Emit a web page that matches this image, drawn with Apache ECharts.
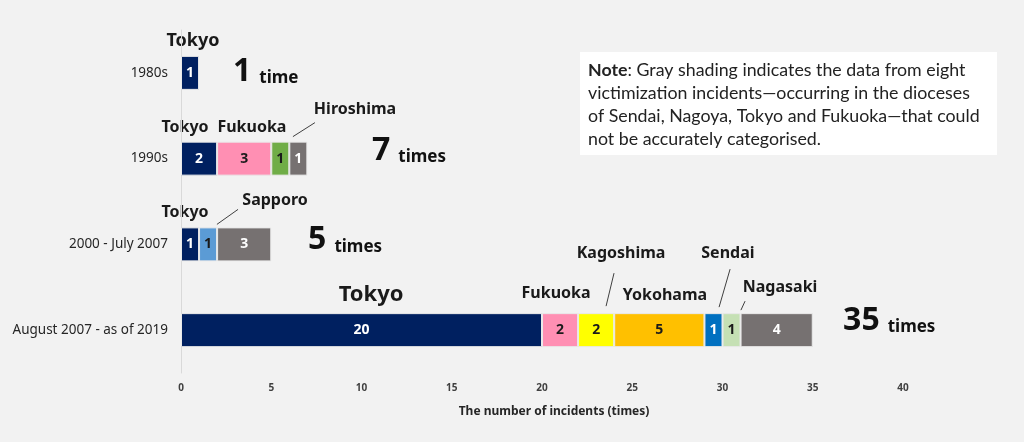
<!DOCTYPE html>
<html>
<head>
<meta charset="utf-8">
<script src="https://cdn.jsdelivr.net/npm/echarts@6/dist/echarts.min.js"></script>
<style>
html,body{margin:0;padding:0;background:#f2f2f2;}
#c{width:1024px;height:442px;}
</style>
</head>
<body>
<div id="c"></div>
<script>
// ---- data ----
var categories = ['1980s', '1990s', '2000 - July 2007', 'August 2007 - as of 2019'];
var tokyo      = [1, 2, 1, 20];
var fukuoka    = [null, 3, null, 2];
var hiroshima  = [null, 1, null, null];
var sapporo    = [null, null, 1, null];
var kagoshima  = [null, null, null, 2];
var yokohama   = [null, null, null, 5];
var sendai     = [null, null, null, 1];
var nagasaki   = [null, null, null, 1];
var unclassified = [null, 1, 3, 4];
var totals     = [1, 7, 5, 35];
var totalUnits = ['time', 'times', 'times', 'times'];
var xTicks = [0, 5, 10, 15, 20, 25, 30, 35, 40];

// ---- annotation placement (data x, category index, pixel offset from category center) ----
var regionLabels = [
  {t:'Tokyo', x:0.66, c:0, dy:-32, s:18},
  {t:'Tokyo', x:0.22, c:1, dy:-31, s:16},
  {t:'Fukuoka', x:3.93, c:1, dy:-31, s:16},
  {t:'Hiroshima', x:9.64, c:1, dy:-49, s:16},
  {t:'Tokyo', x:0.22, c:2, dy:-32, s:16},
  {t:'Sapporo', x:5.21, c:2, dy:-44, s:16},
  {t:'Tokyo', x:10.53, c:3, dy:-35, s:22},
  {t:'Fukuoka', x:20.78, c:3, dy:-37, s:16},
  {t:'Kagoshima', x:24.38, c:3, dy:-77, s:16},
  {t:'Yokohama', x:26.81, c:3, dy:-35, s:16},
  {t:'Sendai', x:30.30, c:3, dy:-77, s:16},
  {t:'Nagasaki', x:33.19, c:3, dy:-43, s:16}
];
var leaderLines = [
  {x1:7.42, c:1, dy1:-36, x2:6.20, dy2:-22},
  {x1:3.16, c:2, dy1:-35, x2:1.99, dy2:-20},
  {x1:23.99, c:3, dy1:-57, x2:23.55, dy2:-24},
  {x1:30.42, c:3, dy1:-61, x2:29.81, dy2:-23},
  {x1:31.25, c:3, dy1:-29, x2:31.02, dy2:-20}
];
var totalPos = [
  {x:2.88, dy:15},
  {x:10.58, dy:8},
  {x:7.04, dy:12},
  {x:36.68, dy:7}
];

var FONT = '"Noto Sans", "DejaVu Sans", sans-serif';

function mk(name, data, color, labelColor) {
  return {
    name: name, type: 'bar', stack: 'all', data: data, barWidth: 34,
    itemStyle: {color: color, borderColor: '#e9e9e9', borderWidth: 1},
    label: {show: true, position: 'inside', color: labelColor, fontFamily: FONT,
            fontSize: 14, fontWeight: 'bold'},
    emphasis: {disabled: true}
  };
}

var chart = echarts.init(document.getElementById('c'), null, {renderer: 'canvas'});
chart.setOption({
  backgroundColor: '#f2f2f2',
  animation: false,
  grid: {left: 181, right: 121, top: 30, bottom: 69},
  xAxis: {
    type: 'value', min: 0, max: 40, interval: 5,
    axisLine: {show: false}, axisTick: {show: false}, splitLine: {show: false},
    axisLabel: {margin: 10, color: '#404040', fontFamily: FONT, fontSize: 10, fontWeight: 'bold',
      customValues: xTicks},
    name: 'The number of incidents (times)', nameLocation: 'middle', nameGap: 33,
    nameTextStyle: {color: '#262626', fontFamily: FONT, fontSize: 12, fontWeight: 'bold', padding: [0,0,0,24]}
  },
  yAxis: {
    type: 'category', data: categories, inverse: true,
    axisLine: {show: true, lineStyle: {color: '#d9d9d9', width: 1}},
    axisTick: {show: false},
    axisLabel: {margin: 13, color: '#262626', fontFamily: FONT, fontSize: 13.5}
  },
  series: [
    mk('Tokyo', tokyo, '#002060', '#ffffff'),
    mk('Fukuoka', fukuoka, '#ff8fb3', '#1a1a1a'),
    mk('Hiroshima', hiroshima, '#70ad47', '#1a1a1a'),
    mk('Sapporo', sapporo, '#5b9bd5', '#1a1a1a'),
    mk('Kagoshima', kagoshima, '#ffff00', '#1a1a1a'),
    mk('Yokohama', yokohama, '#ffc000', '#1a1a1a'),
    mk('Sendai', sendai, '#0070c0', '#ffffff'),
    mk('Nagasaki', nagasaki, '#c5e0b4', '#1a1a1a'),
    mk('Unclassified', unclassified, '#767171', '#ffffff')
  ]
});

function px(x, c) { return chart.convertToPixel({gridIndex: 0}, [x, c]); }

var g = [];
regionLabels.forEach(function (r) {
  var p = px(r.x, r.c);
  g.push({type: 'text', x: p[0], y: p[1] + r.dy, silent: true,
    style: {text: r.t, fill: '#1a1a1a', font: 'bold ' + r.s + 'px ' + FONT,
            textAlign: 'center', textVerticalAlign: 'middle'}});
});
leaderLines.forEach(function (l) {
  var p1 = px(l.x1, l.c), p2 = px(l.x2, l.c);
  g.push({type: 'line', silent: true,
    shape: {x1: p1[0], y1: p1[1] + l.dy1, x2: p2[0], y2: p2[1] + l.dy2},
    style: {stroke: '#404040', lineWidth: 1}});
});
totals.forEach(function (v, i) {
  var p = px(totalPos[i].x, i);
  g.push({type: 'text', x: p[0], y: p[1] + totalPos[i].dy, silent: true,
    style: {text: '{n|' + v + '}{u|' + totalUnits[i] + '}', textAlign: 'left', textVerticalAlign: 'bottom',
      rich: {
        n: {fontFamily: FONT, fontSize: 32, fontWeight: 'bold', fill: '#111', verticalAlign: 'bottom', lineHeight: 36},
        u: {fontFamily: FONT, fontSize: 17, fontWeight: 'bold', fill: '#111', verticalAlign: 'bottom', lineHeight: 24, padding:[0,0,1,8]}
      }}});
});
// note box
g.push({type: 'rect', silent: true, shape: {x: 580, y: 52, width: 417, height: 103},
  style: {fill: '#ffffff'}});
var noteLines = [
  '{b|Note}: Gray shading indicates the data from eight',
  'victimization incidents\u2014occurring in the dioceses',
  'of Sendai, Nagoya, Tokyo and Fukuoka\u2014that could',
  'not be accurately categorised.'
];
g.push({type: 'text', silent: true, x: 588, y: 59,
  style: {text: noteLines.join('\n'), fill: '#222', font: '17.8px Lato, sans-serif', lineHeight: 23,
    textAlign: 'left', textVerticalAlign: 'top',
    rich: {b: {fontFamily: 'Lato, sans-serif', fontSize: 17.8, fontWeight: 'bold', fill: '#222', lineHeight: 23}}}});
chart.setOption({graphic: g});
</script>
</body>
</html>
